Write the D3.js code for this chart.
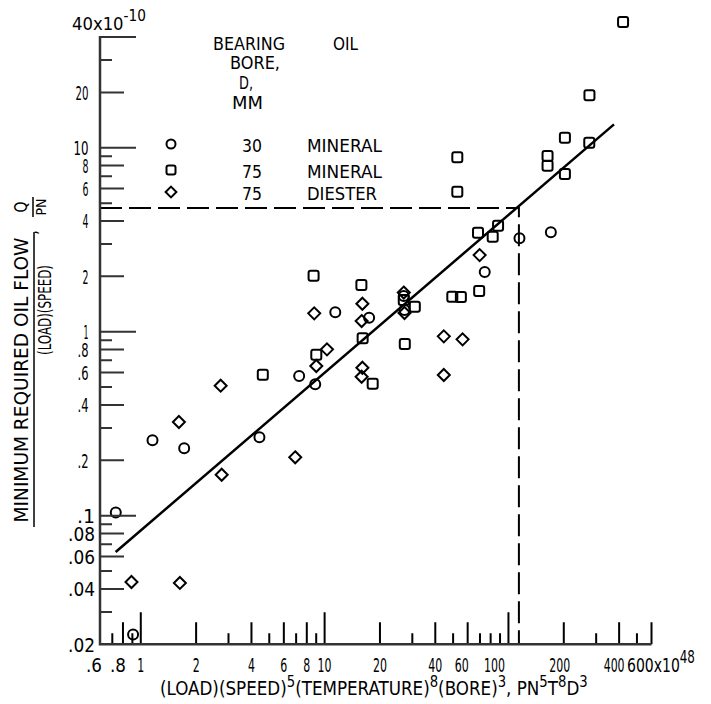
<!DOCTYPE html>
<html>
<head>
<meta charset="utf-8">
<script src="https://cdn.jsdelivr.net/npm/d3@7"></script>
<style>
  html, body { margin: 0; padding: 0; background: #fff; }
  svg { display: block; }
</style>
</head>
<body>
<div id="chart"></div>
<script>
// ---------------- DATA ----------------
// x: (LOAD)(SPEED)^5(TEMPERATURE)^8(BORE)^3, units of 1e48
// y: minimum required oil flow / (load)(speed), units of 1e-10
const mineral30 = [
  [0.731, 0.104], [0.908, 0.0226], [1.158, 0.257], [1.722, 0.2325], [4.42, 0.267],
  [7.27, 0.574], [8.89, 0.518], [11.43, 1.275], [17.46, 1.191], [27.2, 1.312],
  [26.95, 1.563], [74.3, 2.11], [114.8, 3.22], [170.1, 3.47]
];
const mineral75 = [
  [4.61, 0.584], [8.71, 2.015], [9.01, 0.75], [15.85, 1.794], [16.1, 0.921],
  [18.26, 0.522], [26.95, 1.487], [30.95, 1.367], [27.3, 0.857], [49.5, 1.55],
  [55.1, 1.544], [69.3, 1.664], [68.3, 3.45], [82.1, 3.28], [87.8, 3.77],
  [52.7, 8.87], [52.7, 5.77], [163.2, 9.01], [163.2, 7.98], [202.8, 11.33],
  [202.8, 7.2], [275.2, 10.65], [275.8, 19.3], [420.2, 48.2]
];
const diester75 = [
  [0.89, 0.0436], [1.632, 0.0431], [1.612, 0.323], [2.72, 0.509], [2.755, 0.167],
  [6.92, 0.2077], [8.78, 1.259], [9.01, 0.651], [10.3, 0.802], [16.05, 1.42],
  [15.9, 1.143], [16.05, 0.637], [15.9, 0.569], [26.95, 1.633], [27.2, 1.264],
  [44.5, 0.944], [56.3, 0.909], [44.5, 0.582], [69.7, 2.61]
];
const fitLine = [[0.73, 0.0635], [375, 13.4]];
const crossPoint = [114, 4.7];

const xDomain = [0.6, 600];
const yDomain = [0.02, 40];
const xTickValues = [0.6, 0.8, 1, 2, 4, 6, 8, 10, 20, 40, 60, 100, 200, 400];
const xTickLabels = [".6", ".8", "1", "2", "4", "6", "8", "10", "20", "40", "60", "100", "200", "400"];
const xLastLabel = ["600x10", "48"];
const yTickValues = [0.02, 0.04, 0.06, 0.08, 0.1, 0.2, 0.4, 0.6, 0.8, 1, 2, 4, 6, 8, 10, 20];
const yTickLabels = [".02", ".04", ".06", ".08", ".1", ".2", ".4", ".6", ".8", "1", "2", "4", "6", "8", "10", "20"];
const yTopLabel = ["40x10", "-10"];

const legendHeader1 = ["BEARING", "BORE,", "D,", "MM"];
const legendHeader2 = "OIL";
const legendBore = ["30", "75", "75"];
const legendOil = ["MINERAL", "MINERAL", "DIESTER"];
const legendShapes = ["circle", "square", "diamond"];

const xTitle = [["(LOAD)(SPEED)"], ["5", "sup"], ["(TEMPERATURE)"], ["8", "sup"], ["(BORE)"], ["3", "sup"],
  [", PN"], ["5", "sup"], ["T"], ["8", "sup"], ["D"], ["3", "sup"]];
const yTitleNum = "MINIMUM REQUIRED OIL FLOW";
const yTitleDen = "(LOAD)(SPEED)";

// ---------------- LAYOUT / STYLE ----------------
const W = 711, H = 704;
const AXIS_INK = "#333333";
const FONT = "'Liberation Sans Narrow','DejaVu Sans Condensed','Liberation Sans',Arial,sans-serif";
const svg = d3.select("#chart").append("svg").attr("width", W).attr("height", H)
  .style("font-family", FONT);
svg.append("rect").attr("width", W).attr("height", H).attr("fill", "#fff");

const x = d3.scaleLog().domain(xDomain).range([100, 651.5]);
const y = d3.scaleLog().domain(yDomain).range([644.3, 37]);
const X0 = x(xDomain[0]);   // left axis position
const Y0 = y(yDomain[0]);   // bottom axis position

function addText(px, py, parts, o = {}) {
  const g = svg.append("g").attr("transform", `translate(${px},${py})${o.rotate ? ` rotate(${o.rotate})` : ""}`);
  const t = g.append("text").attr("text-anchor", o.anchor || "start")
    .attr("font-size", o.size || 20).attr("fill", "#000");
  if (typeof parts === "string") parts = [[parts]];
  let shifted = 0;
  parts.forEach(([s, kind]) => {
    const sp = t.append("tspan").text(s);
    const target = kind === "sup" ? -(o.supShift || 8) : 0;
    if (target !== shifted) { sp.attr("dy", target - shifted); shifted = target; }
    if (kind === "sup") sp.attr("font-size", o.supSize || 14);
  });
  if (o.width) {
    const w = t.node().getComputedTextLength();
    if (w > 0) t.attr("transform", `scale(${o.width / w},1)`);
  }
  return t;
}

function marker(sel, shape, cx, cy, s = 1) {
  const common = e => e.attr("fill", "none").attr("stroke", "#000").attr("stroke-width", 2);
  if (shape === "circle") {
    common(sel.append("circle").attr("cx", cx).attr("cy", cy).attr("r", 5 * s));
  } else if (shape === "square") {
    common(sel.append("rect").attr("x", cx - 5 * s).attr("y", cy - 5 * s)
      .attr("width", 10 * s).attr("height", 10 * s).attr("rx", 2));
  } else {
    const d = 6 * s;
    common(sel.append("path").attr("d", `M${cx},${cy - d}L${cx + d},${cy}L${cx},${cy + d}L${cx - d},${cy}Z`));
  }
}

// ---------------- TICK LABELS ----------------
const xLabelNudge = { ".6": -6, ".8": -5, "60": -6, "100": -14, "200": -4, "400": -5 };
const xLabelWidth = s => s.startsWith(".") ? 16 : 7 * s.length;
xTickValues.forEach((v, i) => {
  const s = xTickLabels[i];
  addText(x(v) + (xLabelNudge[s] || 0), 672, s, { anchor: "middle", size: 20, width: xLabelWidth(s) });
});
addText(627, 672, [[xLastLabel[0]], [xLastLabel[1], "sup"]], { size: 20, width: 68, supShift: 9, supSize: 17 });

const yLabelWidth = s => {
  if (s.startsWith(".0")) return 27;
  if (s === ".1") return 18;
  if (s.startsWith(".")) return 11;
  if (s === "10") return 15;
  if (s.length === 2) return 13;
  return s === "1" ? 5 : 6;
};
yTickValues.forEach((v, i) => {
  const s = yTickLabels[i];
  const right = v <= 0.1 ? 95 : 88.5;
  addText(right, y(v) + 7.5, s, { anchor: "end", size: 20, width: yLabelWidth(s) });
});
addText(72, 30, [[yTopLabel[0]], [yTopLabel[1], "sup"]], { size: 18, width: 74, supShift: 9, supSize: 15 });

// ---------------- AXIS TITLES ----------------
addText(160, 695, xTitle, { size: 19, width: 428, supShift: 8, supSize: 15 });

addText(28, 380, yTitleNum, { anchor: "middle", rotate: -90, size: 19, width: 285 });
svg.append("path").attr("d", "M34,232V527").attr("fill", "none").attr("stroke", "#000").attr("stroke-width", 1.5);
addText(51, 310, yTitleDen, { anchor: "middle", rotate: -90, size: 17, width: 90 });
addText(27, 207, "Q", { anchor: "middle", rotate: -90, size: 17, width: 11 });
svg.append("path").attr("d", "M33,197V217").attr("fill", "none").attr("stroke", "#000").attr("stroke-width", 1.5);
addText(46, 207, "PN", { anchor: "middle", rotate: -90, size: 14, width: 17 });
addText(37, 235, ",", { anchor: "start", rotate: -90, size: 18 });

// ---------------- LEGEND ----------------
const hdrPos = [[249, 50, 72], [255, 69, 50], [246, 89, 14], [247.5, 109, 31]];
legendHeader1.forEach((s, i) => addText(hdrPos[i][0], hdrPos[i][1], s, { anchor: "middle", size: 18, width: hdrPos[i][2] }));
addText(345.5, 50, legendHeader2, { anchor: "middle", size: 18, width: 25 });
const rowY = [144, 170, 192];
const oilW = { "MINERAL": 75, "DIESTER": 70 };
const legendG = svg.append("g");
legendShapes.forEach((sh, i) => {
  marker(legendG, sh, 171, rowY[i], 0.9);
  addText(252, rowY[i] + 8, legendBore[i], { anchor: "middle", size: 18, width: 20 });
  addText(307, rowY[i] + 8, legendOil[i], { size: 18, width: oilW[legendOil[i]] });
});

// ---------------- LINES ----------------
const line = d3.line().x(d => x(d[0])).y(d => y(d[1]));
svg.append("path").attr("d", line(fitLine)).attr("fill", "none")
  .attr("stroke", "#000").attr("stroke-width", 2.5);
svg.append("path")
  .attr("d", line([[xDomain[0], crossPoint[1]], crossPoint, [crossPoint[0], yDomain[0]]]))
  .attr("fill", "none").attr("stroke", "#000").attr("stroke-width", 2)
  .attr("stroke-dasharray", "22,7");

// ---------------- POINTS ----------------
const pts = svg.append("g");
mineral30.forEach(d => marker(pts, "circle", x(d[0]), y(d[1])));
mineral75.forEach(d => marker(pts, "square", x(d[0]), y(d[1])));
diester75.forEach(d => marker(pts, "diamond", x(d[0]), y(d[1])));

// ---------------- AXES (ticks + lines), drawn last ----------------
const near = (a, list) => list.some(m => Math.abs(m - a) / m < 1e-6);
const xMajor = [1, 10, 100];
const xLabeled = [0.8, 2, 4, 6, 8, 20, 40, 60, 200, 400, 600];
const xAll = x.ticks().filter(v => v > 0.6 * 1.0001);
const yMajor = [0.1, 1, 10, 40];
const yLabeled = [0.04, 0.06, 0.08, 0.2, 0.4, 0.6, 0.8, 2, 4, 6, 8, 20];
const yAll = y.ticks().filter(v => v > 0.02 * 1.0001);
const xLen = v => near(v, xMajor) ? 32 : near(v, xLabeled) ? 22 : 11;
const yLen = v => near(v, yMajor) ? 36 : near(v, yLabeled) ? 24 : 12;

const axesG = svg.append("g").attr("class", "axes");
axesG.append("path").attr("d", xAll.map(v => `M${x(v)},${Y0}V${Y0 - xLen(v)}`).join(""))
  .attr("fill", "none").attr("stroke", "#000").attr("stroke-width", 2);
axesG.append("path").attr("d", yAll.map(v => `M${X0},${y(v)}H${X0 + yLen(v)}`).join(""))
  .attr("fill", "none").attr("stroke", AXIS_INK).attr("stroke-width", 2);
axesG.append("path")
  .attr("d", `M${X0},${y(yDomain[1]) - 1}V${Y0}H${x(xDomain[1])}`)
  .attr("fill", "none").attr("stroke", AXIS_INK).attr("stroke-width", 2.5);
</script>
</body>
</html>
